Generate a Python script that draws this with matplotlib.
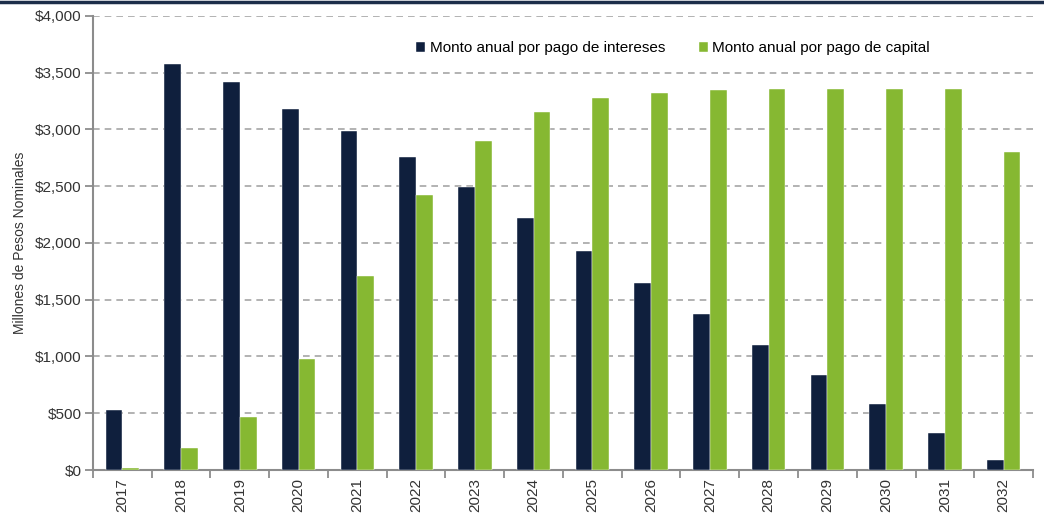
import matplotlib.pyplot as plt
import numpy as np
from matplotlib.lines import Line2D

plt.rcParams['font.family'] = ['Liberation Sans Narrow', 'Liberation Sans', 'DejaVu Sans']

years = ['2017', '2018', '2019', '2020', '2021', '2022', '2023', '2024',
         '2025', '2026', '2027', '2028', '2029', '2030', '2031', '2032']
intereses = [530, 3580, 3420, 3180, 2990, 2760, 2490, 2220,
             1930, 1650, 1370, 1100, 840, 580, 330, 90]
capital = [18, 195, 465, 980, 1710, 2420, 2900, 3155,
           3275, 3325, 3345, 3355, 3355, 3355, 3355, 2800]

navy = '#0f1f3d'
green = '#86b832'
gray = '#8c8c8c'

fig = plt.figure(figsize=(10.44, 5.14), dpi=100)
ax = fig.add_axes([0.089, 0.0856, 0.9005, 0.8834])

x = np.arange(len(years))
w = 0.285
ax.bar(x - w / 2, intereses, w, color=navy, edgecolor='white', linewidth=0.3,
       label='Monto anual por pago de intereses', zorder=3)
ax.bar(x + w / 2, capital, w, color=green, edgecolor='white', linewidth=0.3,
       label='Monto anual por pago de capital', zorder=3)

ax.set_xlim(-0.5, len(years) - 0.5)
ax.set_ylim(0, 4000)
ax.set_yticks(np.arange(0, 4001, 500))
ax.set_yticklabels(['${:,.0f}'.format(v) for v in np.arange(0, 4001, 500)], fontsize=11, color='#333333')
ax.set_xticks(x)
ax.set_xticklabels(years, rotation=90, fontsize=11, color='#333333')
ax.set_xticks(np.arange(-0.5, len(years), 1), minor=True)
ax.tick_params(axis='x', which='major', length=0, pad=6)
ax.tick_params(axis='x', which='minor', length=6, width=1.3, color=gray, direction='out')
ax.tick_params(axis='y', length=6, width=1.3, color=gray, direction='out', pad=2)

ax.yaxis.grid(True, linestyle=(0, (4, 3)), color='#a6a6a6', linewidth=1.2, zorder=0)
for s in ['top', 'right']:
    ax.spines[s].set_visible(False)
for s in ['left', 'bottom']:
    ax.spines[s].set_color(gray)
    ax.spines[s].set_linewidth(1.5)

ax.set_ylabel('Millones de Pesos Nominales', fontsize=10, color='#333333', labelpad=6)

leg = ax.legend(loc='upper center', bbox_to_anchor=(0.617, 0.975), ncol=2, frameon=False,
                fontsize=11, handlelength=0.6, handleheight=0.6, handletextpad=0.3,
                columnspacing=2.2)

fig.add_artist(Line2D([0, 1], [0.997, 0.997], transform=fig.transFigure, color='#1c2e4a', linewidth=2.5))

fig.savefig('out.png', dpi=100)
